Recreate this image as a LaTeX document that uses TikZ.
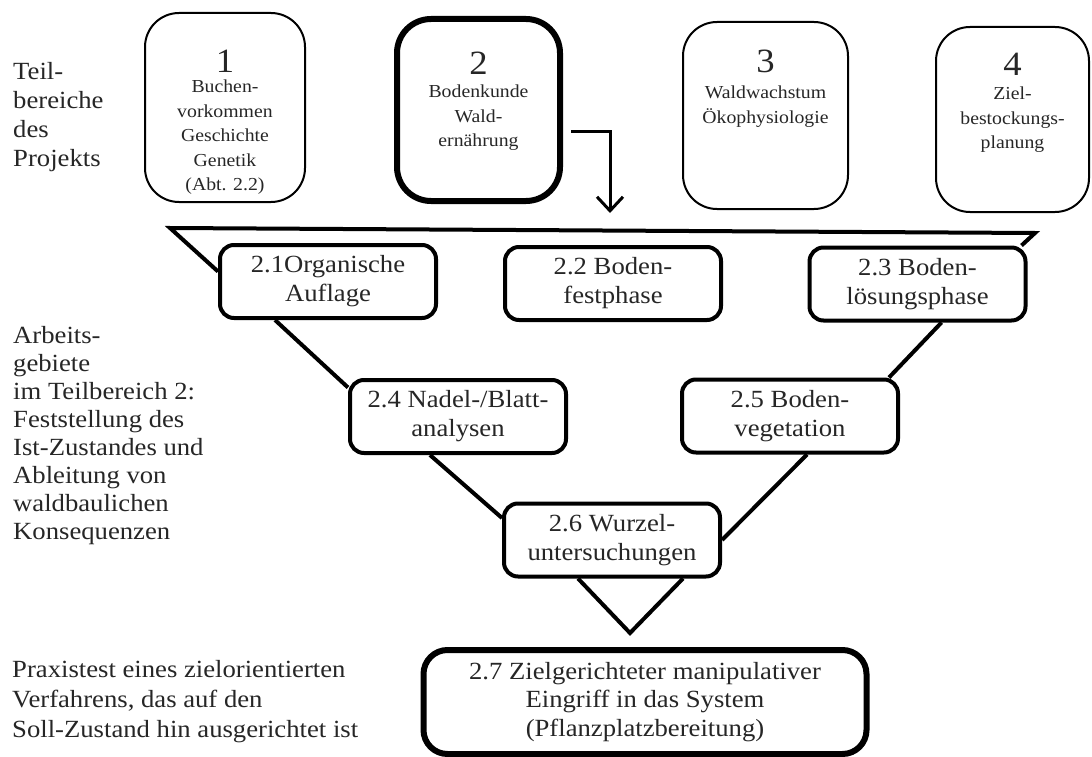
\documentclass[tikz,border=0pt]{standalone}
\usepackage{fontspec}
\setmainfont{Liberation Serif}[FakeStretch=1.08]
\usetikzlibrary{arrows.meta}

\begin{document}
\begin{tikzpicture}[x=1pt,y=-1pt,
  every node/.style={text=black!85},
  area/.style={draw=black, line width=2pt, rounded corners=34pt, inner sep=0pt},
  num/.style={inner sep=0pt, anchor=north, font=\fontsize{34}{36}\selectfont},
  areatext/.style={inner sep=0pt, anchor=north, align=center, font=\fontsize{18.3}{24.5}\selectfont},
  task/.style={draw=black, line width=4pt, rounded corners=14pt, inner sep=0pt, align=center,
    minimum width=216pt, minimum height=73pt, font=\fontsize{24.7}{29}\selectfont},
  link/.style={line width=4pt, line join=miter},
  lbl/.style={inner sep=0pt, anchor=west, align=left, font=\fontsize{24.7}{28}\selectfont}
]
\useasboundingbox (0,0) rectangle (1092,757);

% project sub-areas
\node[area, minimum width=160pt, minimum height=189pt] (b1) at (225,107.5) {};
\node[num] (n1) at (225,50) {1};
\node[areatext] (t1) at (225,80) {Buchen-\\vorkommen\\Geschichte\\Genetik\\(Abt. 2.2)};

\node[area, line width=6pt, minimum width=163pt, minimum height=182pt] (b2) at (478.5,110) {};
\node[num] (n2) at (478.5,52) {2};
\node[areatext] (t2) at (478.5,85) {Bodenkunde\\Wald-\\ernährung};

\node[area, minimum width=165pt, minimum height=187pt] (b3) at (765.5,115.5) {};
\node[num] (n3) at (765.5,50) {3};
\node[areatext] (t3) at (765.5,86) {Waldwachstum\\Ökophysiologie};

\node[area, minimum width=153pt, minimum height=185pt] (b4) at (1012.5,119.5) {};
\node[num] (n4) at (1012.5,53) {4};
\node[areatext] (t4) at (1012.5,87) {Ziel-\\bestockungs-\\planung};

% work packages of sub-area 2
\node[task] (a1) at (328,281.5) {2.1Organische\\Auflage};
\node[task] (a2) at (613,283.5) {2.2 Boden-\\festphase};
\node[task] (a3) at (917.5,284) {2.3 Boden-\\lösungsphase};
\node[task] (a4) at (458,416.5) {2.4 Nadel-/Blatt-\\analysen};
\node[task] (a5) at (790,416) {2.5 Boden-\\vegetation};
\node[task] (a6) at (612,540) {2.6 Wurzel-\\untersuchungen};
\node[task, line width=6pt, rounded corners=24pt, minimum width=443pt, minimum height=104pt,
  font=\fontsize{24.7}{28.5}\selectfont] (a7) at (645,702)
  {2.7 Zielgerichteter manipulativer\\Eingriff in das System\\(Pflanzplatzbereitung)};

% arrow from sub-area 2 into the funnel
\coordinate (arrtip) at (610,213);
\draw[line width=3pt, -{Straight Barb[length=14pt,width=26pt]}]
  ([xshift=8pt,yshift=-22pt]b2.east) -| (arrtip);

% funnel
\coordinate (tl) at (170,228);
\coordinate (tr) at (1035,233);
\draw[link] ([yshift=10pt]a1.west) -- (tl) -- (tr) -- ([xshift=-6pt]a3.north east);
\draw[link] ([xshift=-53pt]a1.south) -- ([yshift=29pt]a4.west);
\draw[link] ([xshift=24pt]a3.south) -- ([xshift=-11pt]a5.north east);
\draw[link] ([xshift=-28pt]a4.south) -- ([yshift=22pt]a6.west);
\draw[link] ([xshift=17pt]a5.south) -- (a6.east);
\coordinate (vtip) at (630,633);
\draw[link] ([xshift=-34pt]a6.south) -- (vtip) -- ([xshift=71pt]a6.south);

% row labels
\node[lbl, font=\fontsize{24.7}{29}\selectfont] (l1) at (13,117) {Teil-\\bereiche\\des\\Projekts};
\node[lbl] (l2) at (13,436) {Arbeits-\\gebiete\\im Teilbereich 2:\\Feststellung des\\Ist-Zustandes und\\Ableitung von\\waldbaulichen\\Konsequenzen};
\node[lbl, font=\fontsize{24.7}{30}\selectfont] (l3) at (12,702) {Praxistest eines zielorientierten\\Verfahrens, das auf den\\Soll-Zustand hin ausgerichtet ist};
\end{tikzpicture}
\end{document}
